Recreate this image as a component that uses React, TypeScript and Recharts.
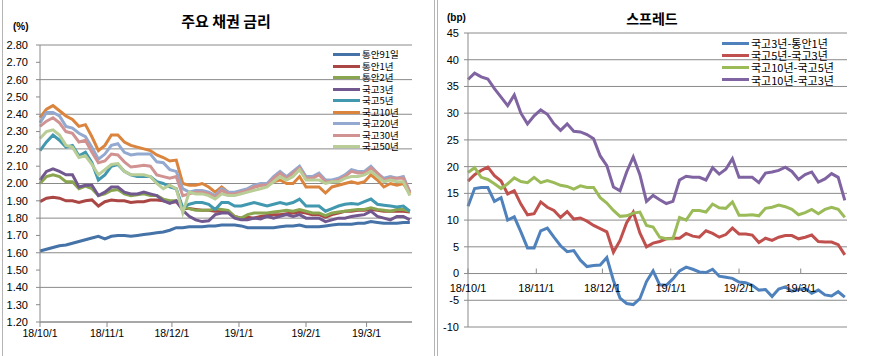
import React from 'react';
import { LineChart, Line, XAxis, YAxis, CartesianGrid, Legend } from 'recharts';

// sample days counted from 2018-10-01
const days = [
  0, 3, 6, 9, 12, 15, 18, 21, 24, 27, 30, 33, 36, 39, 42, 45, 48, 51, 54, 57,
  60, 63, 66, 69, 72, 75, 78, 81, 84, 87, 90, 93, 96, 99, 102, 105, 108, 111, 114, 117,
  120, 123, 126, 129, 132, 135, 138, 141, 144, 147, 150, 153, 156, 159, 162, 165, 168, 171,
];
const monthTicks = [0, 31, 61, 92, 123, 151];
const monthLabels = ['18/10/1', '18/11/1', '18/12/1', '19/1/1', '19/2/1', '19/3/1'];
const rateTicks = [1.2, 1.3, 1.4, 1.5, 1.6, 1.7, 1.8, 1.9, 2.0, 2.1, 2.2, 2.3, 2.4, 2.5, 2.6, 2.7, 2.8];
const spreadTicks = [-10, -5, 0, 5, 10, 15, 20, 25, 30, 35, 40, 45];

// 주요 채권 금리 (%)
const msb91d = [
  1.61, 1.62, 1.63, 1.64, 1.645, 1.655, 1.665, 1.675, 1.685, 1.695,
  1.68, 1.695, 1.7, 1.7, 1.695, 1.7, 1.705, 1.71, 1.715, 1.72,
  1.73, 1.745, 1.745, 1.75, 1.75, 1.75, 1.755, 1.755, 1.76, 1.76,
  1.76, 1.755, 1.745, 1.745, 1.745, 1.745, 1.745, 1.75, 1.755, 1.755,
  1.76, 1.75, 1.75, 1.75, 1.755, 1.76, 1.765, 1.765, 1.765, 1.77,
  1.77, 1.78, 1.775, 1.77, 1.77, 1.77, 1.775, 1.775,
];
const msb1y = [
  1.895, 1.915, 1.92, 1.915, 1.9, 1.9, 1.89, 1.9, 1.905, 1.87,
  1.895, 1.905, 1.9, 1.9, 1.89, 1.895, 1.895, 1.905, 1.905, 1.9,
  1.89, 1.895, 1.855, 1.855, 1.85, 1.845, 1.845, 1.84, 1.84, 1.835,
  1.81, 1.8, 1.805, 1.8, 1.81, 1.815, 1.82, 1.82, 1.825, 1.83,
  1.835, 1.83, 1.82, 1.82, 1.805, 1.82, 1.83, 1.84, 1.84, 1.845,
  1.845, 1.85, 1.845, 1.84, 1.84, 1.84, 1.84, 1.835,
];
const msb2y = [
  2.0, 2.04, 2.05, 2.04, 2.01, 2.01, 1.97, 1.985, 1.97, 1.93,
  1.94, 1.96, 1.965, 1.94, 1.93, 1.935, 1.94, 1.93, 1.93, 1.91,
  1.9, 1.9, 1.865, 1.855, 1.845, 1.845, 1.845, 1.855, 1.85, 1.845,
  1.81, 1.8, 1.82, 1.83, 1.83, 1.83, 1.835, 1.84, 1.845, 1.84,
  1.85, 1.84, 1.83, 1.83, 1.815, 1.83, 1.835, 1.84, 1.845, 1.85,
  1.85, 1.86, 1.85, 1.845, 1.84, 1.85, 1.85, 1.84,
];
const ktb3y = [
  2.02, 2.07, 2.085, 2.07, 2.05, 2.05, 1.98, 1.99, 1.99, 1.93,
  1.95, 1.98, 1.98, 1.95, 1.94, 1.94, 1.95, 1.94, 1.93, 1.9,
  1.885, 1.9, 1.845, 1.81, 1.79, 1.78, 1.785, 1.82, 1.83, 1.83,
  1.8, 1.79, 1.79, 1.8, 1.795, 1.81, 1.8, 1.81, 1.82, 1.81,
  1.82, 1.8, 1.8, 1.8, 1.78, 1.79, 1.8, 1.8, 1.81, 1.815,
  1.82, 1.84, 1.81, 1.8, 1.79, 1.81, 1.81, 1.79,
];
const ktb5y = [
  2.19, 2.24, 2.28, 2.25, 2.21, 2.22, 2.16, 2.18, 2.12, 2.02,
  2.05, 2.1, 2.11, 2.07, 2.05, 2.04, 2.04, 2.04, 2.01, 2.0,
  1.98, 1.97, 1.86, 1.88, 1.89, 1.89, 1.88, 1.85, 1.89, 1.89,
  1.87, 1.87, 1.88, 1.89, 1.88, 1.87, 1.88, 1.89, 1.88, 1.89,
  1.91, 1.87, 1.87, 1.87, 1.84, 1.855, 1.87, 1.88, 1.885, 1.88,
  1.895, 1.91, 1.88, 1.875, 1.87, 1.865, 1.87, 1.84,
];
const ktb10y = [
  2.38, 2.43, 2.45, 2.42, 2.39, 2.37, 2.33, 2.34, 2.27, 2.19,
  2.22, 2.28, 2.28, 2.24, 2.22, 2.21, 2.2, 2.19, 2.165, 2.15,
  2.13, 2.135, 2.0, 1.99, 1.99, 2.0, 1.98, 1.95, 1.98, 1.95,
  1.94, 1.95, 1.96, 1.98, 1.99, 2.0, 2.01, 2.02, 2.0, 2.0,
  2.04, 1.98, 1.98, 1.98, 1.945, 1.98, 1.99, 2.0, 2.01, 2.0,
  2.01, 2.05, 2.02, 1.98, 2.0, 1.99, 2.0, 1.94,
];
const ktb20y = [
  2.35, 2.41, 2.41, 2.39, 2.33, 2.32, 2.29, 2.27, 2.21, 2.14,
  2.17, 2.22, 2.23, 2.18, 2.165, 2.17, 2.17, 2.17, 2.125, 2.12,
  2.08, 2.07, 1.97, 1.95, 1.96, 1.96, 1.95, 1.93, 1.97, 1.95,
  1.95, 1.96, 1.97, 1.99, 2.0, 2.0, 2.04, 2.07, 2.04, 2.07,
  2.1, 2.04, 2.04, 2.06, 2.02, 2.02, 2.03, 2.05, 2.08, 2.07,
  2.07, 2.1, 2.06, 2.03, 2.04, 2.03, 2.04, 1.95,
];
const ktb30y = [
  2.33, 2.36, 2.38, 2.35, 2.3, 2.29, 2.24, 2.25, 2.18, 2.12,
  2.13, 2.17, 2.165, 2.125, 2.095, 2.1, 2.105, 2.1, 2.05, 2.04,
  2.03, 2.04, 1.93, 1.94, 1.95, 1.95, 1.94, 1.92, 1.96, 1.94,
  1.94, 1.95, 1.96, 1.98, 1.99, 1.99, 2.03, 2.06, 2.03, 2.06,
  2.09, 2.03, 2.03, 2.05, 2.01, 2.01, 2.02, 2.04, 2.07, 2.06,
  2.06, 2.09, 2.06, 2.02, 2.03, 2.03, 2.03, 1.95,
];
const ktb50y = [
  2.26, 2.3, 2.31, 2.28, 2.22, 2.21, 2.15, 2.16, 2.11, 2.05,
  2.08, 2.11, 2.115, 2.07, 2.05, 2.05, 2.05, 2.04, 2.0, 1.97,
  1.99, 1.97, 1.83, 1.95, 1.94, 1.94, 1.93, 1.91, 1.94, 1.93,
  1.93, 1.94, 1.95, 1.96, 1.97, 1.98, 2.01, 2.04, 2.02, 2.04,
  2.08, 2.02, 2.02, 2.02, 2.0, 2.01, 2.01, 2.03, 2.04, 2.04,
  2.05, 2.07, 2.04, 2.01, 2.02, 2.01, 2.01, 1.93,
];

// 스프레드 (bp)
const sp3y1y = [
  12.6, 15.9, 16.1, 16.1, 13.5, 14.2, 10.0, 10.6, 7.8, 4.8,
  4.8, 8.0, 8.5, 6.8, 5.2, 4.1, 4.3, 2.5, 1.3, 1.5,
  1.6, 3.0, -1.3, -4.6, -5.6, -5.8, -4.7, -1.5, 0.5, -2.1,
  -2.2, -1.0, 0.5, 1.2, 0.8, 0.3, 0.2, 0.8, -0.5, -0.7,
  -0.9, -1.6, -1.7, -2.2, -3.1, -3.0, -4.3, -2.9, -2.5, -3.3,
  -3.0, -2.8, -3.7, -3.1, -4.0, -4.2, -3.4, -4.4,
];
const sp5y3y = [
  17.3, 18.5, 19.3, 19.9, 18.3, 17.3, 14.9, 15.5, 13.0, 11.0,
  11.2, 13.4, 12.4, 11.8, 10.5, 11.6, 10.2, 10.4, 9.8, 9.0,
  8.4, 7.8, 4.0, 6.2, 9.5, 11.5, 7.6, 5.0, 5.7, 6.0,
  6.5, 6.6, 6.6, 7.5, 7.0, 6.8, 8.0, 7.5, 6.8, 7.3,
  8.5, 7.4, 7.4, 7.2, 5.8, 6.6, 6.2, 6.8, 7.1, 7.1,
  6.5, 6.8, 7.2, 6.0, 5.9, 5.9, 5.4, 3.5,
];
const sp10y5y = [
  18.9, 19.8, 18.0, 17.6, 16.8, 15.9, 16.8, 17.9, 17.2, 17.0,
  18.0, 17.0, 17.4, 17.0, 16.5, 16.3, 15.8, 16.4, 16.1, 16.1,
  14.2, 13.2, 11.8, 10.7, 10.8, 11.3, 11.5, 9.0, 8.7, 6.8,
  6.5, 6.5, 10.5, 10.0, 11.8, 11.8, 11.5, 13.0, 12.3, 12.2,
  13.4, 10.9, 10.9, 11.0, 10.8, 12.2, 12.4, 12.8, 12.5, 12.0,
  11.0, 11.4, 12.0, 11.2, 12.0, 12.4, 12.0, 10.5,
];
const sp10y3y = [
  36.3, 37.5, 36.8, 36.4, 34.6, 33.0, 31.4, 33.4, 30.0, 28.0,
  29.5, 30.6, 29.8, 28.0, 26.8, 28.0, 26.6, 26.5, 26.0, 25.2,
  22.0, 20.2, 16.2, 15.5, 19.0, 21.8, 18.5, 13.5, 14.6, 13.8,
  13.1, 13.5, 17.5, 18.2, 18.0, 18.0, 17.5, 19.8, 18.6, 19.5,
  21.5, 18.0, 18.0, 18.0, 17.0, 18.8, 19.0, 19.3, 19.9, 19.1,
  17.6, 18.5, 19.0, 17.1, 17.7, 18.7, 18.0, 13.7,
];

const rateSeries = [
  { key: 'msb91d', name: '통안91일', color: '#4572A7', values: msb91d },
  { key: 'msb1y', name: '통안1년', color: '#AA4643', values: msb1y },
  { key: 'msb2y', name: '통안2년', color: '#89A54E', values: msb2y },
  { key: 'ktb3y', name: '국고3년', color: '#71588F', values: ktb3y },
  { key: 'ktb5y', name: '국고5년', color: '#4198AF', values: ktb5y },
  { key: 'ktb10y', name: '국고10년', color: '#DB843D', values: ktb10y },
  { key: 'ktb20y', name: '국고20년', color: '#93A9CF', values: ktb20y },
  { key: 'ktb30y', name: '국고30년', color: '#D19392', values: ktb30y },
  { key: 'ktb50y', name: '국고50년', color: '#B9CD96', values: ktb50y },
];

const spreadSeries = [
  { key: 'sp3y1y', name: '국고3년-통안1년', color: '#4F81BD', values: sp3y1y },
  { key: 'sp5y3y', name: '국고5년-국고3년', color: '#C0504D', values: sp5y3y },
  { key: 'sp10y5y', name: '국고10년-국고5년', color: '#9BBB59', values: sp10y5y },
  { key: 'sp10y3y', name: '국고10년-국고3년', color: '#8064A2', values: sp10y3y },
];

const toRows = (series) =>
  days.map((d, i) => {
    const row = { day: d };
    series.forEach(s => { row[s.key] = s.values[i]; });
    return row;
  });

const GRID = '#8a8a8a';
const KR = '"Noto Sans CJK KR", "Noto Sans", sans-serif';
const NUM = '"Liberation Sans", Arial, sans-serif';
const monthLabel = v => monthLabels[monthTicks.indexOf(v)];

// legend rows packed tight like the Excel original
const makeLegend = (series, rowH, fontSize, lineW) => () => (
  <div style={{ fontFamily: KR, fontSize, color: '#000' }}>
    {series.map(s => (
      <div key={s.key} style={{ position: 'relative', height: rowH, whiteSpace: 'nowrap' }}>
        <div style={{ position: 'absolute', left: 0, top: rowH / 2 - 1.5, width: lineW, height: 3, background: s.color }} />
        <div style={{ position: 'absolute', left: lineW + 2, top: 0, height: rowH, lineHeight: `${rowH}px` }}>
          {s.name}
        </div>
      </div>
    ))}
  </div>
);

// spread chart: month labels sit on the zero line, as in the source
const SpreadTick = ({ x, y, payload }) => (
  <g>
    <line x1={x} x2={x} y1={y - 58.5} y2={y - 53.5} stroke={GRID} />
    <text x={x} y={y - 35} textAnchor="middle" fontFamily={NUM} fontSize={11} fill="#000">
      {monthLabel(payload.value)}
    </text>
  </g>
);

export default function App() {
  const rateRows = toRows(rateSeries);
  const spreadRows = toRows(spreadSeries);

  return (
    <div style={{ position: 'absolute', left: 0, top: 0, width: 871, height: 356, background: '#fff', overflow: 'hidden' }}>
      {/* frames */}
      <div style={{ position: 'absolute', left: 2, top: -2, width: 433, height: 360, borderLeft: '1px solid #b4b4b4', borderRight: '1px solid #b4b4b4', boxSizing: 'border-box' }} />
      <div style={{ position: 'absolute', left: 437, top: -2, width: 1, height: 360, background: '#b4b4b4' }} />

      {/* left: 주요 채권 금리 */}
      <div style={{ position: 'absolute', left: 0, top: 0 }}>
        <LineChart width={430} height={356} data={rateRows} margin={{ top: 45, right: 18, bottom: 14, left: 0 }}>
          <CartesianGrid vertical={false} stroke={GRID} />
          <XAxis
            dataKey="day"
            type="number"
            domain={[0, 172]}
            ticks={monthTicks}
            tickFormatter={monthLabel}
            height={20}
            tickSize={5}
            tickMargin={3}
            stroke={GRID}
            tick={{ fontFamily: NUM, fontSize: 10.5, fill: '#000' }}
          />
          <YAxis
            type="number"
            domain={[1.2, 2.8]}
            ticks={rateTicks}
            tickFormatter={v => v.toFixed(2)}
            width={40}
            tickSize={4}
            tickMargin={8}
            stroke={GRID}
            tick={{ fontFamily: NUM, fontSize: 11, fill: '#000' }}
          />
          <Legend
            layout="vertical"
            align="center"
            verticalAlign="middle"
            wrapperStyle={{ left: 333, top: 49, width: 100 }}
            content={makeLegend(rateSeries, 11.5, 9.5, 27)}
          />
          {rateSeries.map(s => (
            <Line key={s.key} type="linear" dataKey={s.key} name={s.name} stroke={s.color} strokeWidth={3} dot={false} isAnimationActive={false} />
          ))}
        </LineChart>
        <div style={{ position: 'absolute', left: 126, top: 12, width: 200, textAlign: 'center', fontFamily: KR, fontSize: 15, fontWeight: 'bold', lineHeight: '18px' }}>
          주요 채권 금리
        </div>
        <div style={{ position: 'absolute', left: 13, top: 21, fontFamily: NUM, fontSize: 10, fontWeight: 'bold', lineHeight: '12px' }}>
          (%)
        </div>
      </div>

      {/* right: 스프레드 */}
      <div style={{ position: 'absolute', left: 435, top: 0 }}>
        <LineChart width={430} height={356} data={spreadRows} margin={{ top: 33, right: 18, bottom: 9, left: 0 }}>
          <CartesianGrid vertical={false} stroke={GRID} />
          <XAxis
            dataKey="day"
            type="number"
            domain={[0, 172]}
            ticks={monthTicks}
            height={20}
            tickSize={0}
            tickMargin={0}
            axisLine={false}
            tickLine={false}
            tick={SpreadTick}
          />
          <YAxis
            type="number"
            domain={[-10, 45]}
            ticks={spreadTicks}
            width={33}
            tickSize={4}
            tickMargin={5}
            stroke={GRID}
            tick={{ fontFamily: NUM, fontSize: 11, fill: '#000' }}
          />
          <Legend
            layout="vertical"
            align="center"
            verticalAlign="middle"
            wrapperStyle={{ left: 287, top: 37, width: 140 }}
            content={makeLegend(spreadSeries, 12.2, 11, 27)}
          />
          {spreadSeries.map(s => (
            <Line key={s.key} type="linear" dataKey={s.key} name={s.name} stroke={s.color} strokeWidth={3} dot={false} isAnimationActive={false} />
          ))}
        </LineChart>
        <div style={{ position: 'absolute', left: 167, top: 10, width: 100, textAlign: 'center', fontFamily: KR, fontSize: 14, fontWeight: 'bold', lineHeight: '17px' }}>
          스프레드
        </div>
        <div style={{ position: 'absolute', left: 12, top: 12, fontFamily: NUM, fontSize: 10, fontWeight: 'bold', lineHeight: '12px' }}>
          (bp)
        </div>
      </div>
    </div>
  );
}
